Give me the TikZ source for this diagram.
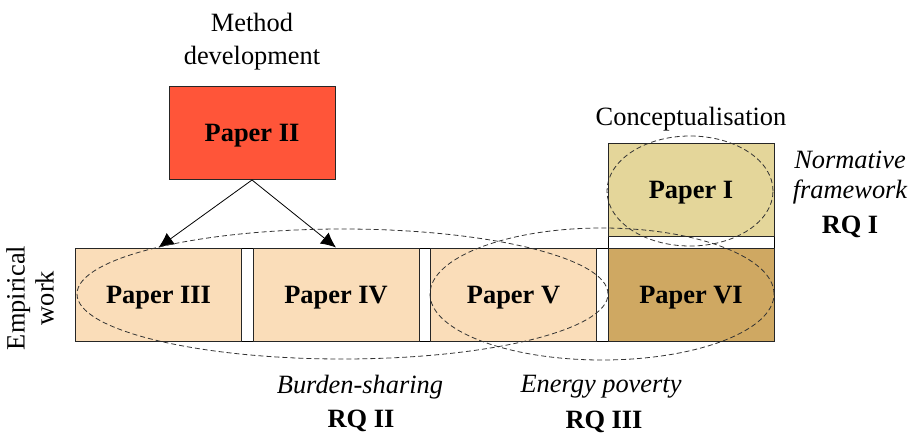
\documentclass[tikz,border=0pt]{standalone}
\usepackage{fontspec}
\setmainfont{Liberation Serif}
\usepackage{xcolor}
\usepackage{tikz}
\usetikzlibrary{positioning, shapes, arrows.meta}

\definecolor{methodred}{HTML}{FF5539}
\definecolor{empirical}{HTML}{FADDB9}
\definecolor{concept}{HTML}{E4D69A}
\definecolor{synth}{HTML}{CFA862}
\newcommand{\figfont}{\fontsize{13.2}{16}\selectfont}

\begin{document}
\begin{tikzpicture}
            [
            x=0.5pt,y=-0.5pt,
            every node/.style={font=\figfont},
            paper/.style={rectangle,draw=black!85,line width=0.5pt,minimum width=83pt,minimum height=46.5pt,inner sep=0pt,text depth=0pt,font=\figfont\bfseries},
            group/.style={ellipse,draw=black!80,dash pattern=on 2.5pt off 1.5pt,line width=0.4pt,inner sep=0pt},
            note/.style={anchor=base,inner sep=0pt,align=center},
            link/.style={line width=0.4pt,-{Latex[length=7.5pt,width=7pt]}}
            ]
        \useasboundingbox (0,0) rectangle (913,433);
        % frames behind the boxes
        \draw[line width=0.5pt] (75,248) rectangle (774,341);
        \draw[line width=0.5pt] (608,143) rectangle (774,341);
        % papers
        \node[paper,fill=methodred] (p2) at (252,133) {Paper II};
        \node[paper,fill=concept] (p1) at (691,189.5) {Paper I};
        \node[paper,fill=empirical] (p3) at (158.5,294.5) {Paper III};
        \node[paper,fill=empirical] (p4) at (336,294.5) {Paper IV};
        \node[paper,fill=empirical] (p5) at (513.5,294.5) {Paper V};
        \node[paper,fill=synth] (p6) at (691,294.5) {Paper VI};
        \draw[link] (p2.south) -- (p3.north);
        \draw[link] (p2.south) -- (p4.north);
        % research questions
        \node[group,minimum width=83pt,minimum height=55pt] (rq1) at (690,191) {};
        \node[group,minimum width=265.5pt,minimum height=65pt] (rq2) at (342.5,294) {};
        \node[group,minimum width=172pt,minimum height=66pt] (rq3) at (602,294) {};
        % texts (base = last line)
        \node[note,font=\fontsize{13.2}{16.5}\selectfont] (method) at (252,65) {Method\\development};
        \node[note] (concepttext) at (691,125) {Conceptualisation};
        \node[note,font=\fontsize{13.2}{15}\selectfont\itshape] (normative) at (850,198) {Normative\\framework};
        \node[note,font=\figfont\bfseries] (rqone) at (850,233) {RQ I};
        \node[note,font=\figfont\itshape] (burden) at (360,393) {Burden-sharing};
        \node[note,font=\figfont\bfseries] (rqtwo) at (361,427) {RQ II};
        \node[note,font=\figfont\itshape] (energy) at (601,392) {Energy poverty};
        \node[note,font=\figfont\bfseries] (rqthree) at (604,428) {RQ III};
        \node[rotate=90,align=center,inner sep=0pt,font=\fontsize{13.2}{14.5}\selectfont] (empiricaltext) at (30,298) {Empirical\\work};
        \end{tikzpicture}
\end{document}
